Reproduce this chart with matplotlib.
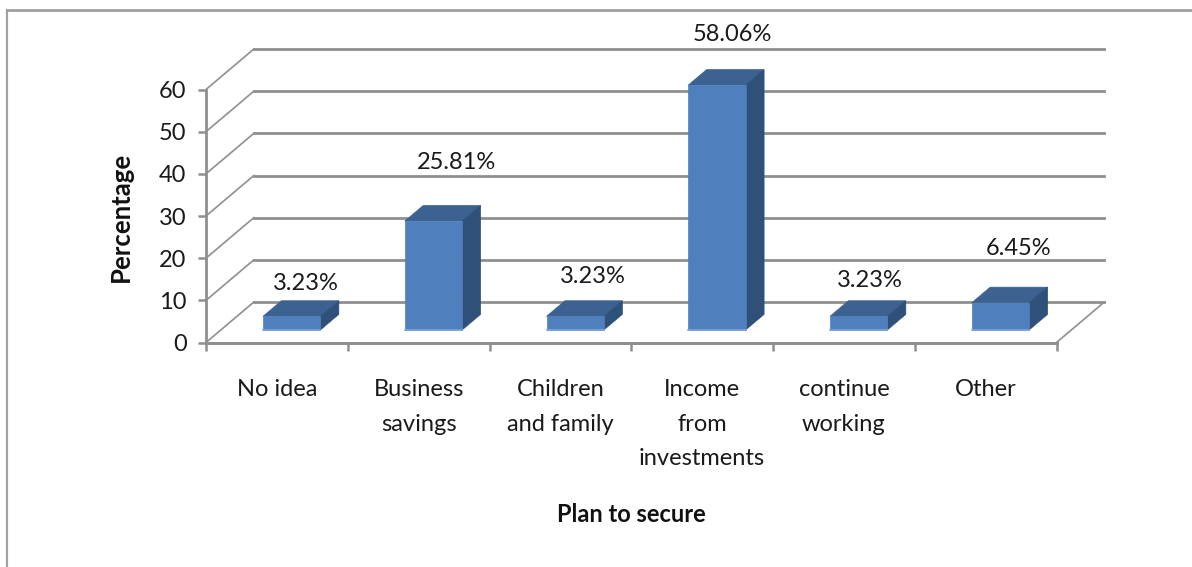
import matplotlib
matplotlib.use("Agg")
from matplotlib import pyplot as plt
from matplotlib.patches import Polygon

plt.rcParams["font.family"] = ["Lato", "DejaVu Sans"]

categories = ["No idea", "Business\nsavings", "Children\nand family",
              "Income\nfrom\ninvestments", "continue\nworking", "Other"]
values = [3.23, 25.81, 3.23, 58.06, 3.23, 6.45]
y_ticks = [0, 10, 20, 30, 40, 50, 60]

W, H = 1192, 567
GRID = "#8f8f8f"
FRONT = "#4f7fbc"
TOP = "#3b6290"
SIDE = "#2e5079"
TEXT = "#1a1a1a"

# depth of the floor, in data units
DX = 0.3375
DY = 9.6
BAR_W = 0.405


# Axes box in pixels measured from the top left of the figure.
def px_axes(fig, left, top, right, bottom):
    return fig.add_axes([left / W, 1 - bottom / H, (right - left) / W, (bottom - top) / H])


# One 3D looking column: front face plus the top and right faces.
def draw_bar(ax, center, value):
    x0 = center - BAR_W / 2 + DX * 0.31
    x1 = x0 + BAR_W
    y0 = DY * 0.31
    y1 = y0 + value
    dx = DX * 0.385
    dy = DY * 0.385
    ax.add_patch(Polygon([(x0, y1), (x1, y1), (x1 + dx, y1 + dy), (x0 + dx, y1 + dy)],
                         fc=TOP, ec=TOP, lw=0.5, zorder=4, clip_on=False))
    ax.add_patch(Polygon([(x1, y0), (x1 + dx, y0 + dy), (x1 + dx, y1 + dy), (x1, y1)],
                         fc=SIDE, ec=SIDE, lw=0.5, zorder=4, clip_on=False))
    ax.add_patch(Polygon([(x0, y0), (x1, y0), (x1, y1), (x0, y1)],
                         fc=FRONT, ec=FRONT, lw=0.5, zorder=5, clip_on=False))
    ax.plot([x0, x1], [y0, y0], color="#7ea6d8", lw=1.2, zorder=6, clip_on=False)


fig = plt.figure(figsize=(W / 100, H / 100), dpi=100)
ax = px_axes(fig, 206, 89.5, 1056.5, 342.5)
n = len(categories)
ax.set_xlim(0, n)
ax.set_ylim(0, 60)
ax.patch.set_alpha(0)

# back wall and side wall gridlines
for t in y_ticks:
    ax.plot([DX, n + DX], [t + DY, t + DY], color=GRID, lw=2.0, zorder=1, clip_on=False)
    ax.plot([0, DX], [t, t + DY], color=GRID, lw=1.2, zorder=1, clip_on=False)
# floor edges
ax.plot([0, n], [0, 0], color=GRID, lw=2.0, zorder=2, clip_on=False)
ax.plot([n, n + DX], [0, DY], color=GRID, lw=1.2, zorder=2, clip_on=False)

centers = [i + 0.5 for i in range(n)]
for c, v in zip(centers, values):
    draw_bar(ax, c, v)

# data labels were placed by hand, so each gets its own nudge in points
nudges = [(0.7, -1.4), (6.6, 17.2), (2.9, 3.6), (1.2, 11.5), (-1.4, 1), (3.6, 14.2)]
for c, v, (nx, ny) in zip(centers, values, nudges):
    ax.annotate(f"{v:.2f}%", (c + 0.2, v + DY * 0.695), xytext=(nx, 6 + ny),
                textcoords="offset points", ha="center", va="bottom",
                fontsize=17, color=TEXT, zorder=7, annotation_clip=False)

for s in ["top", "right"]:
    ax.spines[s].set_visible(False)
for s in ["left", "bottom"]:
    ax.spines[s].set_color(GRID)
    ax.spines[s].set_linewidth(2.0)

ax.set_yticks(y_ticks)
ax.set_xticks(range(n + 1))
ax.set_xticklabels([""] * (n + 1))
ax.tick_params(axis="y", length=6, width=1.8, color=GRID, labelsize=17, labelcolor=TEXT, pad=8)
ax.tick_params(axis="x", length=6, width=1.8, color=GRID)

# category names sit between the ticks
for c, name in zip(centers, categories):
    ax.annotate(name, (c, 0), xytext=(0, -26.5), textcoords="offset points",
                ha="center", va="top", fontsize=17, color=TEXT, linespacing=1.78,
                annotation_clip=False)

fig.text(121 / W, 1 - 217 / H, "Percentage", rotation=90, ha="center", va="center",
         fontsize=18.5, fontweight="bold", color="#111111")
fig.text(631 / W, 1 - 515 / H, "Plan to secure", ha="center", va="center",
         fontsize=17, fontweight="bold", color="#111111")

# outer chart border, only the left and top edges are in frame
fig.add_artist(plt.Line2D([7.5 / W, 7.5 / W], [0, 1 - 10 / H], color="#a0a0a0", lw=1.6))
fig.add_artist(plt.Line2D([7.5 / W, 1], [1 - 10 / H, 1 - 10 / H], color="#a0a0a0", lw=2.0))

fig.savefig("out.png", dpi=100)
